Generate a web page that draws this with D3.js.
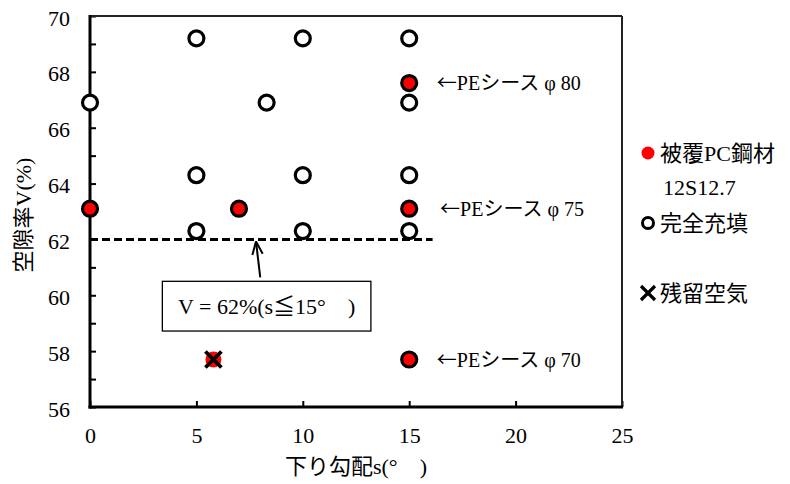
<!DOCTYPE html>
<html><head><meta charset="utf-8">
<script src="https://cdn.jsdelivr.net/npm/d3@7"></script>
<style>
body{margin:0;background:#fff}
svg text{font-family:"Liberation Serif","Noto Sans CJK JP",serif;fill:#000}
.cjk{font-family:"Noto Sans CJK JP",sans-serif}
</style>
</head><body>
<svg id="chart" width="790" height="484"></svg>
<script>
// ---- data ----
const xTicks = [0, 5, 10, 15, 20, 25];
const yTicks = [56,57,58,59,60,61,62,63,64,65,66,67,68,69,70];
// 被覆PC鋼材 12S12.7 (red filled)
const coatedS = [0, 7, 15, 15, 15];
const coatedV = [63.1, 63.1, 63.1, 67.6, 57.7];
// 完全充填 (hollow)
const fullS = [0, 5, 10, 15, 8.3, 15, 5, 10, 15, 5, 10, 15];
const fullV = [66.9, 69.2, 69.2, 69.2, 66.9, 66.9, 64.3, 64.3, 64.3, 62.3, 62.3, 62.3];
// 残留空気 (cross, over a red dot)
const airS = [5.8];
const airV = [57.7];
// threshold line V = 62%
const thresholdV = 62;
const thresholdS = [0, 16.1];
// sheath labels
const sheathLabels = ["←PEシース φ 80", "←PEシース φ 75", "←PEシース φ 70"];
const sheathS = [16.3, 16.45, 16.3];
const sheathV = [67.6, 63.1, 57.7];
const legendLabels = ["被覆PC鋼材", "12S12.7", "完全充填", "残留空気"];
const xTitle = "下り勾配s(°\u3000)";
const yTitle = "空隙率V(%)";
const noteText = "V = 62%(s≦15°\u3000)";

// ---- layout ----
const svg = d3.select("#chart");
const L = 90, R = 622, T = 16, B = 407;
const x = d3.scaleLinear().domain([0, 25]).range([L, R]);
const y = d3.scaleLinear().domain([56, 70]).range([B, T]);

// axes
const gy = svg.append("g").attr("transform", `translate(${L},0)`)
  .call(d3.axisLeft(y).tickValues(yTicks).tickSizeInner(-6).tickSizeOuter(0)
    .tickPadding(20).tickFormat(d => d % 2 === 0 ? d : ""));
const gx = svg.append("g").attr("transform", `translate(0,${B})`)
  .call(d3.axisBottom(x).tickValues(xTicks).tickSizeInner(-6).tickSizeOuter(0)
    .tickPadding(20).tickFormat(d => d));
[gx, gy].forEach(g => {
  g.attr("font-family", null).attr("font-size", null);
  g.select(".domain").remove();
  g.selectAll(".tick line").attr("stroke", "#000").attr("stroke-width", 2);
  g.selectAll(".tick text").attr("font-size", 22).attr("fill", "#000")
    .style("font-family", "'Liberation Serif', serif");
});
gy.selectAll(".tick text").attr("dy", "0.41em");
gx.selectAll(".tick text").attr("dy", "0.71em");

// frame: top/right thin, left/bottom thick
svg.append("line").attr("x1", L).attr("x2", R).attr("y1", T).attr("y2", T)
  .attr("stroke", "#222").attr("stroke-width", 2);
svg.append("line").attr("x1", R).attr("x2", R).attr("y1", T).attr("y2", B)
  .attr("stroke", "#222").attr("stroke-width", 2);
svg.append("line").attr("x1", L).attr("x2", L).attr("y1", T - 1).attr("y2", B + 1.5)
  .attr("stroke", "#000").attr("stroke-width", 3);
svg.append("line").attr("x1", L - 1.5).attr("x2", R + 1).attr("y1", B).attr("y2", B)
  .attr("stroke", "#000").attr("stroke-width", 3);

// threshold dashed line
svg.append("line")
  .attr("x1", x(thresholdS[0])).attr("x2", x(thresholdS[1]))
  .attr("y1", y(thresholdV)).attr("y2", y(thresholdV))
  .attr("stroke", "#000").attr("stroke-width", 3).attr("stroke-dasharray", "8,4");

// note box and arrow
const boxS = [3.4, 13.2], boxV = [60.5, 58.72];
svg.append("rect")
  .attr("x", x(boxS[0])).attr("y", y(boxV[0]))
  .attr("width", x(boxS[1]) - x(boxS[0])).attr("height", y(boxV[1]) - y(boxV[0]))
  .attr("fill", "#fff").attr("stroke", "#000").attr("stroke-width", 1.3);
svg.append("text")
  .attr("x", (x(boxS[0]) + x(boxS[1])) / 2).attr("y", (y(boxV[0]) + y(boxV[1])) / 2)
  .attr("dy", "0.36em").attr("text-anchor", "middle").attr("font-size", 22)
  .text(noteText);
const arrBase = [x(8.0), y(boxV[0]) - 4], arrTip = [x(7.8), y(thresholdV) + 2];
svg.append("line").attr("x1", arrBase[0]).attr("y1", arrBase[1])
  .attr("x2", arrTip[0]).attr("y2", arrTip[1]).attr("stroke", "#000").attr("stroke-width", 2);
const ang = Math.atan2(arrBase[1] - arrTip[1], arrBase[0] - arrTip[0]);
[-0.38, 0.38].forEach(da => {
  svg.append("line").attr("x1", arrTip[0]).attr("y1", arrTip[1])
    .attr("x2", arrTip[0] + 14 * Math.cos(ang + da)).attr("y2", arrTip[1] + 14 * Math.sin(ang + da))
    .attr("stroke", "#000").attr("stroke-width", 2);
});

// hollow points
svg.append("g").selectAll("circle").data(d3.range(fullS.length)).join("circle")
  .attr("cx", i => x(fullS[i])).attr("cy", i => y(fullV[i])).attr("r", 7.5)
  .attr("fill", "#fff").attr("stroke", "#000").attr("stroke-width", 3.2);
// coated points
svg.append("g").selectAll("circle").data(d3.range(coatedS.length)).join("circle")
  .attr("cx", i => x(coatedS[i])).attr("cy", i => y(coatedV[i])).attr("r", 7.5)
  .attr("fill", "#f00").attr("stroke", "#000").attr("stroke-width", 3.2);
// residual air: red dot + cross
const ga = svg.append("g");
airS.forEach((s, i) => {
  const cx = x(s), cy = y(airV[i]);
  ga.append("circle").attr("cx", cx).attr("cy", cy).attr("r", 8).attr("fill", "#f00");
  ga.append("path").attr("d", `M${cx-8},${cy-8}L${cx+8},${cy+8}M${cx-8},${cy+8}L${cx+8},${cy-8}`)
    .attr("stroke", "#000").attr("stroke-width", 3.8).attr("fill", "none");
});

// sheath labels (arrow glyph in CJK font for full width)
const st = svg.append("g").selectAll("text").data(sheathLabels).join("text")
  .attr("x", (d, i) => x(sheathS[i])).attr("y", (d, i) => y(sheathV[i]))
  .attr("dy", "0.36em").attr("font-size", 20);
st.append("tspan").attr("class", "cjk").text(d => d.slice(0, 1));
st.append("tspan").text(d => d.slice(1));

// axis titles
svg.append("text").attr("x", (L + R) / 2).attr("y", 474).attr("text-anchor", "middle")
  .attr("font-size", 22).text(xTitle);
svg.append("text").attr("transform", "translate(31,215) rotate(-90)")
  .attr("text-anchor", "middle").attr("font-size", 22).text(yTitle);

// legend
const lg = svg.append("g");
lg.append("circle").attr("cx", 648).attr("cy", 153).attr("r", 6.5).attr("fill", "#f00");
lg.append("circle").attr("cx", 648).attr("cy", 223).attr("r", 5.5)
  .attr("fill", "#fff").attr("stroke", "#000").attr("stroke-width", 3);
lg.append("path").attr("d", "M641,286L655,300M641,300L655,286")
  .attr("stroke", "#000").attr("stroke-width", 3.2);
const legY = [153, 187, 223, 293], legX = [660, 663, 660, 660];
lg.selectAll("text").data(legendLabels).join("text")
  .attr("x", (d, i) => legX[i]).attr("y", (d, i) => legY[i]).attr("dy", "0.36em")
  .attr("font-size", 22).text(d => d);
</script>
</body></html>
